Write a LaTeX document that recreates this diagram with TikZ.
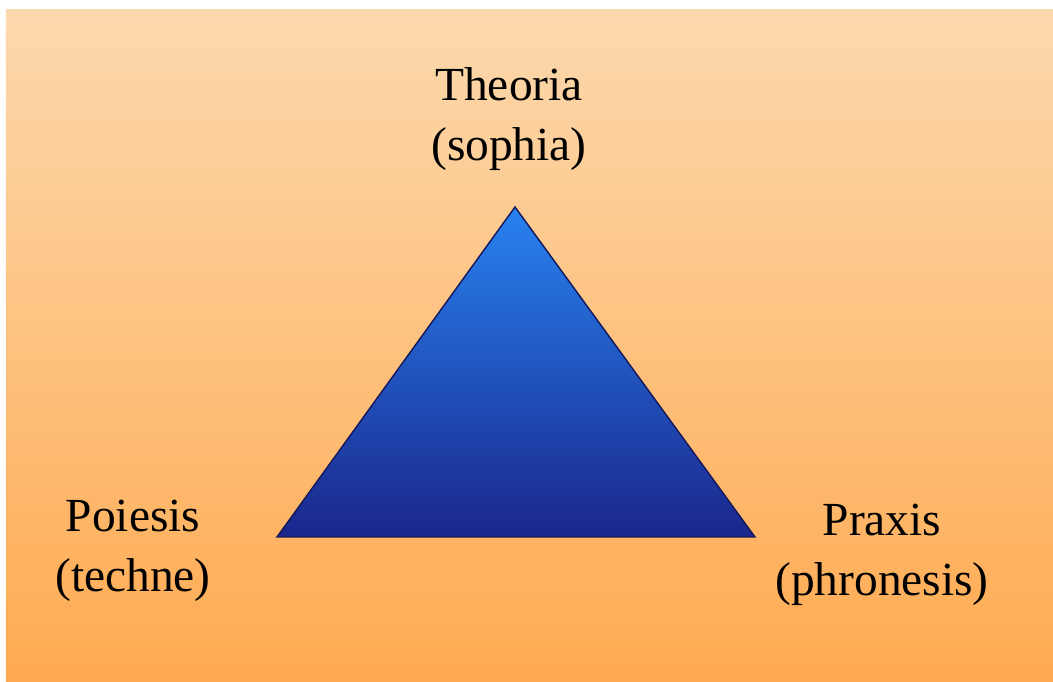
\documentclass[tikz,border=0pt]{standalone}
\usepackage{fontspec}
\setmainfont{Liberation Serif}
\usepackage{tikz}
\definecolor{sandtop}{RGB}{252,217,174}
\definecolor{sandbot}{RGB}{255,170,80}
\definecolor{skytop}{RGB}{40,130,240}
\definecolor{navybot}{RGB}{26,38,140}
\definecolor{edgeblue}{RGB}{20,24,90}
\tikzset{label/.style={align=center,font=\fontsize{13.5}{17}\selectfont,inner sep=0pt}}

\begin{document}
\begin{tikzpicture}[x=0.01cm,y=0.01cm]
\useasboundingbox (0,0) rectangle (1053,-682);
\fill[white] (0,0) rectangle (1053,-682);
% background
\shade[top color=sandtop,bottom color=sandbot] (6,-10) rectangle (1053,-682);
% triangle
\coordinate (apex) at (515,-207);
\coordinate (left) at (277,-537);
\coordinate (right) at (755,-537);
\shade[top color=skytop,bottom color=navybot,draw=edgeblue,line width=0.4pt]
  (apex) -- (left) -- (right) -- cycle;
\node[label] (theoria) at (509,-119) {Theoria\\(sophia)};
\node[label] (poiesis) at (133,-551) {Poiesis\\(techne)};
\node[label] (praxis) at (882,-555) {Praxis\\(phronesis)};
\end{tikzpicture}
\end{document}
